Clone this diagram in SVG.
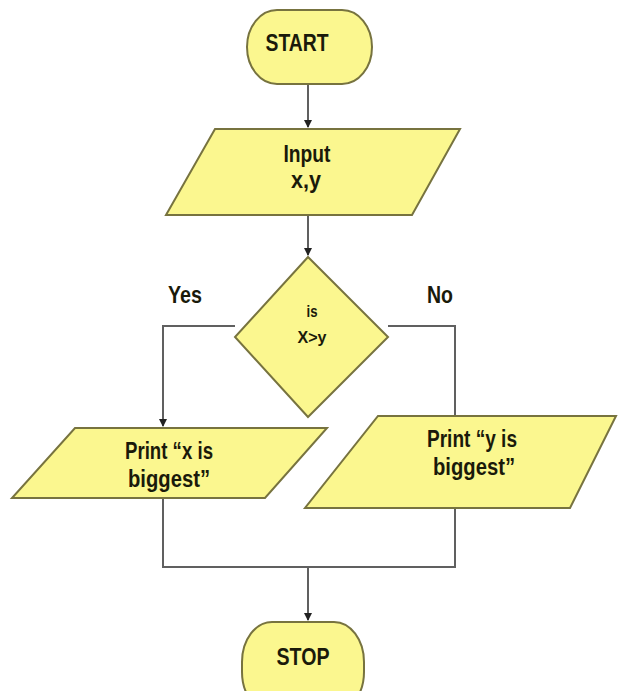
<svg xmlns="http://www.w3.org/2000/svg" width="624" height="691" viewBox="0 0 624 691">
<defs>
<style>
.shape{fill:#FBF78F;stroke:#77733F;stroke-width:2}
.t{font-family:"Liberation Sans",Arial,sans-serif;font-weight:bold;fill:#1a1a0a;text-anchor:middle;font-size:23px}
.s{font-size:17px}
.line{fill:none;stroke:#606060;stroke-width:2}
</style>
<marker id="arr" markerWidth="8" markerHeight="8" refX="7" refY="4" orient="auto" markerUnits="userSpaceOnUse">
<path d="M0,0 L8,4 L0,8 z" fill="#222"/>
</marker>
</defs>
<rect width="624" height="691" fill="#ffffff"/>
<g id="connectors">
<line class="line" x1="308" y1="84" x2="308" y2="127" marker-end="url(#arr)"/>
<line class="line" x1="308" y1="215" x2="308" y2="255" marker-end="url(#arr)"/>
<polyline class="line" points="235,326 163,326 163,426" marker-end="url(#arr)"/>
<polyline class="line" points="388,326 455,326 455,415"/>
<polyline class="line" points="163,498 163,567 455,567 455,508"/>
<line class="line" x1="308" y1="567" x2="308" y2="620" marker-end="url(#arr)"/>
<text class="t" x="185" y="303" textLength="34" lengthAdjust="spacingAndGlyphs">Yes</text>
<text class="t" x="440" y="303" textLength="26" lengthAdjust="spacingAndGlyphs">No</text>
</g>
<g id="start">
<rect class="shape" x="247" y="10" width="125" height="74" rx="30" ry="37"/>
<text class="t" x="297" y="51" textLength="63" lengthAdjust="spacingAndGlyphs">START</text>
</g>
<g id="input">
<polygon class="shape" points="215,129 460,129 412,215 166,215"/>
<text class="t" x="307" y="162" textLength="47" lengthAdjust="spacingAndGlyphs">Input</text>
<text class="t" x="306" y="188" textLength="30" lengthAdjust="spacingAndGlyphs">x,y</text>
</g>
<g id="decision">
<polygon class="shape" points="308,257 388,337 308,417 235,337"/>
<text class="t s" x="312" y="317" textLength="11" lengthAdjust="spacingAndGlyphs">is</text>
<text class="t s" x="312" y="343" textLength="29" lengthAdjust="spacingAndGlyphs">X&gt;y</text>
</g>
<g id="print-x">
<polygon class="shape" points="75,428 327,428 265,498 12,498"/>
<text class="t" x="169" y="459" textLength="88" lengthAdjust="spacingAndGlyphs">Print “x is</text>
<text class="t" x="169" y="487" textLength="82" lengthAdjust="spacingAndGlyphs">biggest”</text>
</g>
<g id="print-y">
<polygon class="shape" points="378,416 616,416 570,508 305,508"/>
<text class="t" x="472" y="447" textLength="90" lengthAdjust="spacingAndGlyphs">Print “y is</text>
<text class="t" x="474" y="475" textLength="82" lengthAdjust="spacingAndGlyphs">biggest”</text>
</g>
<g id="stop">
<rect class="shape" x="242" y="622" width="122" height="90" rx="30" ry="40"/>
<text class="t" x="303" y="665" textLength="53" lengthAdjust="spacingAndGlyphs">STOP</text>
</g>
</svg>
